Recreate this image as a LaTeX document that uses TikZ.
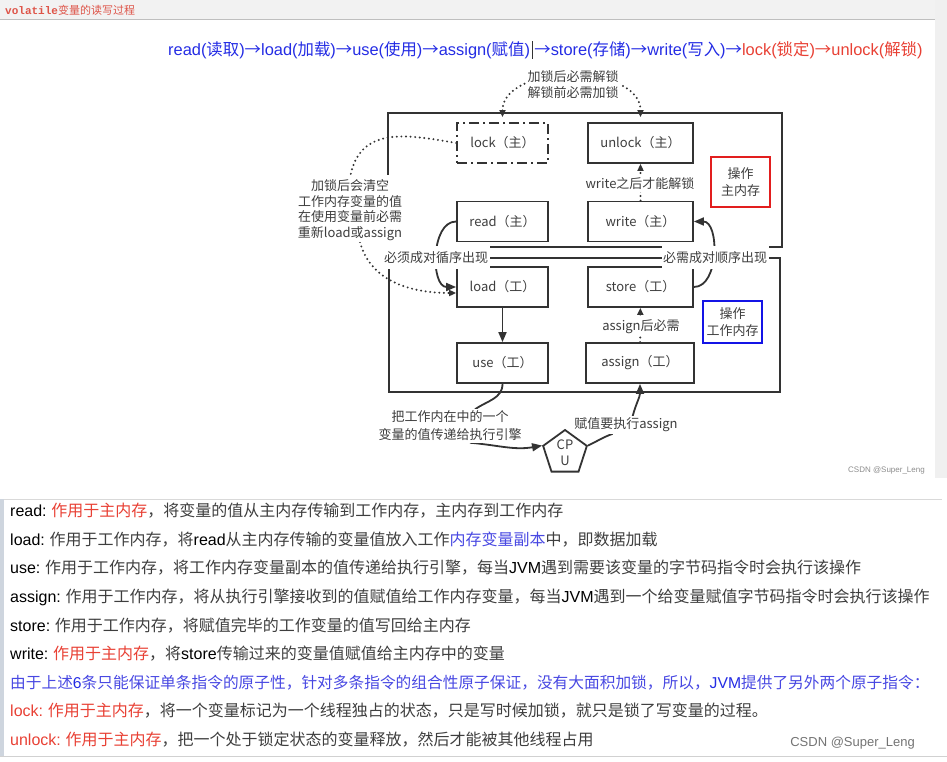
\documentclass[tikz,border=0pt]{standalone}
\usepackage{fontspec}
\setmainfont{Noto Sans CJK SC}
\newfontfamily\latinfont{Liberation Sans}
\newfontfamily\codefont{Liberation Mono}
\usetikzlibrary{positioning,arrows.meta,shapes.geometric,backgrounds}

\definecolor{linegray}{RGB}{51,51,51}
\definecolor{txtgray}{RGB}{62,62,62}
\definecolor{memred}{RGB}{232,64,52}
\definecolor{flowblue}{RGB}{36,44,228}
\definecolor{noteblue}{RGB}{72,72,226}
\definecolor{boxred}{RGB}{226,30,30}
\definecolor{boxblue}{RGB}{20,20,230}
\definecolor{titlered}{RGB}{222,84,72}
\definecolor{barcolor}{RGB}{206,213,222}

\newcommand\kwd[1]{{\latinfont\color{black}#1}}
\newcommand\hlred[1]{{\color{memred}#1}}
\newcommand\opname[2]{{\latinfont #1(}#2{\latinfont )}}

\tikzset{
  opbox/.style={draw=linegray, line width=1.8pt, fill=white, minimum height=40pt,
    inner sep=0pt, text=txtgray, font=\fontsize{13}{15}\selectfont},
  membox/.style={line width=2pt, align=center, inner sep=0pt, minimum width=59pt,
    text=txtgray, font=\fontsize{13}{17.5}\selectfont},
  memo/.style={fill=white, inner sep=1.5pt, align=center, text=txtgray,
    font=\fontsize{13}{15.5}\selectfont},
  pairnote/.style={memo, inner ysep=5pt},
  memframe/.style={draw=linegray, line width=1.8pt},
  solidline/.style={draw=linegray, line width=1.8pt},
  dotline/.style={draw=linegray, line width=2.2pt, line cap=round, dash pattern=on 0pt off 4.6pt},
  bigtip/.style={-{Triangle[length=10pt,width=8pt]}},
  smalltip/.style={-{Triangle[length=7pt,width=6pt]}},
  flowtext/.style={inner sep=0pt, font=\fontsize{16.4}{18}\selectfont},
  descrow/.style={anchor=west, inner sep=0pt, text=txtgray, font=\fontsize{16}{18}\selectfont},
}

\begin{document}
\begin{tikzpicture}[x=1pt,y=1pt]
  \useasboundingbox (0,0) rectangle (947,-762);

  % Kopfzeile und Ablauf
  \node[anchor=west, inner sep=0pt, text=titlered, font=\fontsize{11}{13}\selectfont] (title)
    at (5,-10) {{\codefont\bfseries volatile}变量的读写过程};
  \node[flowtext, text=flowblue, anchor=west] (flowa) at (168,-50)
    {\opname{read}{读取}→\opname{load}{加载}→\opname{use}{使用}→\opname{assign}{赋值}};
  \node[flowtext, text=flowblue, right=4pt of flowa] (flowb)
    {→\opname{store}{存储}→\opname{write}{写入}→\textcolor{memred}{\opname{lock}{锁定}→\opname{unlock}{解锁}}};
  \draw[line width=1.2pt, black!80] ([xshift=2pt]flowa.north east) -- ([xshift=2pt]flowa.south east);

  % Operationen
  \node[opbox, minimum width=91pt, dash pattern=on 10pt off 4pt on 2pt off 4pt] (lock) at (502.5,-143) {lock（主）};
  \node[opbox, minimum width=105pt] (unlock) at (640.5,-143) {unlock（主）};
  \node[opbox, minimum width=91pt] (read) at (502.5,-221.5) {read（主）};
  \node[opbox, minimum width=105pt] (write) at (640.5,-221.5) {write（主）};
  \node[opbox, minimum width=91pt] (load) at (502.5,-287) {load（工）};
  \node[opbox, minimum width=105pt] (store) at (640.5,-287) {store（工）};
  \node[opbox, minimum width=91pt] (use) at (502.5,-363) {use（工）};
  \node[opbox, minimum width=108pt] (assign) at (640,-363) {assign（工）};
  \node[membox, draw=boxred, minimum height=50pt] (mainmem) at (740.5,-182) {操作\\主内存};
  \node[membox, draw=boxblue, minimum height=42pt] (workmem) at (732.5,-322) {操作\\工作内存};
  \node[draw=linegray, line width=1.8pt, fill=white, regular polygon, regular polygon sides=5,
    minimum size=46pt, inner sep=0pt, align=center, text=txtgray,
    font=\fontsize{13}{16}\selectfont] (cpu) at (565,-453) {CP\\U};

  % Beschriftungen
  \node[memo, font=\fontsize{13}{16}\selectfont] (lockpair) at (573,-85) {加锁后必需解锁\\解锁前必需加锁};
  \node[memo] (unlocknote) at (640,-184) {write之后才能解锁};
  \node[pairnote] (readpair) at (436,-257.5) {必须成对循序出现};
  \node[pairnote] (storepair) at (715,-257.5) {必需成对顺序出现};
  \node[memo] (assignnote) at (641,-327) {assign后必需};
  \node[memo] (clearnote) at (350,-210) {加锁后会清空\\工作内存变量的值\\在使用变量前必需\\重新load或assign};
  \node[memo, font=\fontsize{13}{18}\selectfont] (engine) at (450,-426) {把工作内在中的一个\\变量的值传递给执行引擎};
  \node[memo] (assignexec) at (626,-425) {赋值要执行assign};
  \node[anchor=east, inner sep=0pt, text=black!45, font=\latinfont\fontsize{8}{9}\selectfont] (mark)
    at (925,-470) {CSDN @Super\_Leng};

  % Beschreibung
  \foreach \i/\y/\t in {
    1/511/{\kwd{read:} \hlred{作用于主内存}，将变量的值从主内存传输到工作内存，主内存到工作内存},
    2/540/{\kwd{load:} 作用于工作内存，将\kwd{read}从主内存传输的变量值放入工作{\color{noteblue}内存变量副本}中，即数据加载},
    3/568/{\kwd{use:} 作用于工作内存，将工作内存变量副本的值传递给执行引擎，每当\kwd{JVM}遇到需要该变量的字节码指令时会执行该操作},
    4/597/{\kwd{assign:} 作用于工作内存，将从执行引擎接收到的值赋值给工作内存变量，每当\kwd{JVM}遇到一个给变量赋值字节码指令时会执行该操作},
    5/626/{\kwd{store:} 作用于工作内存，将赋值完毕的工作变量的值写回给主内存},
    6/654/{\kwd{write:} \hlred{作用于主内存}，将\kwd{store}传输过来的变量值赋值给主内存中的变量},
    7/683/{{\fontsize{15.7}{18}\selectfont\color{noteblue}由于上述{\latinfont\color{flowblue}6}条只能保证单条指令的原子性，针对多条指令的组合性原子保证，没有大面积加锁，所以，{\latinfont\color{flowblue}JVM}提供了另外两个原子指令：}},
    8/711/{{\latinfont\color{memred}lock:} \hlred{作用于主内存}，将一个变量标记为一个线程独占的状态，只是写时候加锁，就只是锁了写变量的过程。},
    9/740/{{\latinfont\color{memred}unlock:} \hlred{作用于主内存}，把一个处于锁定状态的变量释放，然后才能被其他线程占用}}
    \node[descrow] (desc\i) at (10,-\y) {\t};
  \node[anchor=east, inner sep=0pt, text=black!55, font=\latinfont\fontsize{13}{15}\selectfont] (csdn)
    at (915,-743) {CSDN @Super\_Leng};

  \begin{scope}[on background layer]
    % Hintergrund
    \fill[black!5] (0,0) rectangle (935,-19);
    \draw[black!25] (0,-19.5) -- (935,-19.5);
    \fill[black!6] (935,0) rectangle (947,-478);
    \draw[black!15, line width=1pt] (4,-499.5) -- (942,-499.5);
    \fill[barcolor] (0,-499) rectangle (4,-756);
    \draw[black!18] (0,-756) -- (947,-756);

    % Rahmen
    \draw[memframe] (388,-175) |- (782,-113) |- (388,-247);
    \draw[memframe] (389,-258) rectangle (780,-392);

    % Verbindungen
    \draw[solidline, bigtip] (read.west) to[out=180,in=180] (load.west);
    \draw[solidline, bigtip] (store.east) to[out=0,in=0] (write.east);
    \draw[solidline, bigtip] (load) -- (use);
    \draw[dotline, smalltip] (write) -- (unlock);
    \draw[dotline, smalltip] (assign) -- (store);
    \draw[dotline, {Triangle[length=7pt,width=6pt]}-{Triangle[length=7pt,width=6pt]}]
      ([yshift=5pt]lock.north) to[out=90,in=90] ([yshift=5pt]unlock.north);
    \draw[dotline] (lock.west) to[out=170,in=80,looseness=1.2] (clearnote.north);
    \draw[dotline, smalltip] ([xshift=10pt]clearnote.south) to[out=-75,in=180] ([yshift=-6pt]load.west);
    \draw[solidline] (use.south) to[out=-90,in=35] ([xshift=25pt]engine.north);
    \draw[solidline, bigtip] ([xshift=20pt]engine.south) to[out=-5,in=190] (cpu.corner 2);
    \draw[solidline] (cpu.corner 5) to[out=25,in=200] ([xshift=40pt]assignexec.south west);
    \draw[solidline, bigtip] ([xshift=60pt]assignexec.north west) to[out=75,in=-90] (assign.south);
  \end{scope}
\end{tikzpicture}
\end{document}
